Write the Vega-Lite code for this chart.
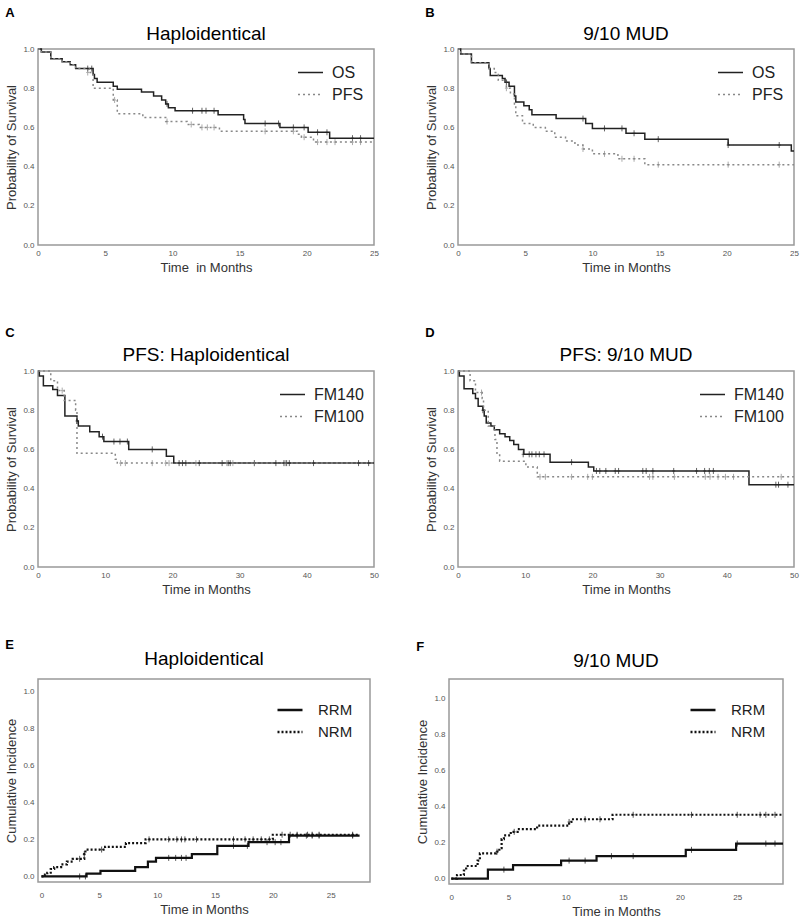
{
  "$schema": "https://vega.github.io/schema/vega-lite/v6.json",
  "padding": {"left": 5, "top": 7, "right": 5, "bottom": 3},
  "background": "white",
  "config": {
    "font": "Liberation Sans",
    "view": {"stroke": "#999", "strokeWidth": 1.5},
    "axis": {"grid": false, "ticks": false, "domain": false, "labelFontSize": 8, "labelColor": "#555", "labelPadding": 4, "labelOverlap": false, "labelFlush": false, "titleFontSize": 13, "titleFontWeight": "normal", "titleColor": "#333"},
    "legend": {"orient": "top-right", "labelFontSize": 16, "labelColor": "#222", "symbolType": "stroke", "symbolSize": 625, "symbolStrokeWidth": 1.5, "rowPadding": -3, "offset": 10, "labelOffset": 8}
  },
  "datasets": {
    "a_line": [
      {"g":"OS","t":0,"s":1},{"g":"OS","t":0.25,"s":0.985},{"g":"OS","t":0.95,"s":0.95},{"g":"OS","t":1.8,"s":0.935},{"g":"OS","t":2.4,"s":0.92},{"g":"OS","t":2.8,"s":0.9},{"g":"OS","t":4.1,"s":0.87},{"g":"OS","t":4.2,"s":0.85},{"g":"OS","t":4.4,"s":0.83},{"g":"OS","t":5.6,"s":0.81},{"g":"OS","t":5.9,"s":0.795},{"g":"OS","t":7.7,"s":0.78},{"g":"OS","t":8.6,"s":0.76},{"g":"OS","t":9.2,"s":0.74},{"g":"OS","t":9.5,"s":0.72},{"g":"OS","t":9.7,"s":0.7},{"g":"OS","t":10.2,"s":0.685},{"g":"OS","t":13.4,"s":0.665},{"g":"OS","t":15.3,"s":0.64},{"g":"OS","t":15.4,"s":0.62},{"g":"OS","t":18.0,"s":0.6},{"g":"OS","t":20.1,"s":0.575},{"g":"OS","t":21.7,"s":0.545},{"g":"OS","t":25,"s":0.545},
      {"g":"PFS","t":0,"s":1},{"g":"PFS","t":0.25,"s":0.985},{"g":"PFS","t":0.95,"s":0.95},{"g":"PFS","t":1.8,"s":0.935},{"g":"PFS","t":2.4,"s":0.92},{"g":"PFS","t":2.8,"s":0.9},{"g":"PFS","t":3.8,"s":0.88},{"g":"PFS","t":4.1,"s":0.8},{"g":"PFS","t":5.6,"s":0.74},{"g":"PFS","t":5.9,"s":0.67},{"g":"PFS","t":7.8,"s":0.65},{"g":"PFS","t":9.5,"s":0.63},{"g":"PFS","t":11.1,"s":0.615},{"g":"PFS","t":12.0,"s":0.6},{"g":"PFS","t":13.5,"s":0.58},{"g":"PFS","t":19.3,"s":0.565},{"g":"PFS","t":19.6,"s":0.55},{"g":"PFS","t":20.5,"s":0.525},{"g":"PFS","t":25,"s":0.525}
    ],
    "a_cens": [
      {"g":"OS","t":3.7,"s":0.9},{"g":"OS","t":4.0,"s":0.9},{"g":"OS","t":9.6,"s":0.72},{"g":"OS","t":11.5,"s":0.685},{"g":"OS","t":12.2,"s":0.685},{"g":"OS","t":12.5,"s":0.685},{"g":"OS","t":13.1,"s":0.685},{"g":"OS","t":16.9,"s":0.62},{"g":"OS","t":17.9,"s":0.62},{"g":"OS","t":19.0,"s":0.6},{"g":"OS","t":19.8,"s":0.6},{"g":"OS","t":20.8,"s":0.575},{"g":"OS","t":21.5,"s":0.575},{"g":"OS","t":23.4,"s":0.545},{"g":"OS","t":24.0,"s":0.545},
      {"g":"PFS","t":3.7,"s":0.88},{"g":"PFS","t":5.7,"s":0.74},{"g":"PFS","t":9.6,"s":0.63},{"g":"PFS","t":11.4,"s":0.615},{"g":"PFS","t":12.2,"s":0.6},{"g":"PFS","t":12.6,"s":0.6},{"g":"PFS","t":13.1,"s":0.6},{"g":"PFS","t":16.9,"s":0.58},{"g":"PFS","t":19.0,"s":0.58},{"g":"PFS","t":19.8,"s":0.55},{"g":"PFS","t":20.8,"s":0.525},{"g":"PFS","t":21.5,"s":0.525},{"g":"PFS","t":22.1,"s":0.525},{"g":"PFS","t":23.4,"s":0.525},{"g":"PFS","t":24.0,"s":0.525}
    ],
    "b_line": [
      {"g":"OS","t":0,"s":1},{"g":"OS","t":0.2,"s":0.975},{"g":"OS","t":1.0,"s":0.93},{"g":"OS","t":2.3,"s":0.9},{"g":"OS","t":2.4,"s":0.865},{"g":"OS","t":3.3,"s":0.85},{"g":"OS","t":3.5,"s":0.83},{"g":"OS","t":3.8,"s":0.81},{"g":"OS","t":4.2,"s":0.76},{"g":"OS","t":4.3,"s":0.73},{"g":"OS","t":4.9,"s":0.71},{"g":"OS","t":5.3,"s":0.69},{"g":"OS","t":5.5,"s":0.665},{"g":"OS","t":7.3,"s":0.645},{"g":"OS","t":9.5,"s":0.62},{"g":"OS","t":10.0,"s":0.595},{"g":"OS","t":12.5,"s":0.57},{"g":"OS","t":13.9,"s":0.54},{"g":"OS","t":20.1,"s":0.51},{"g":"OS","t":24.8,"s":0.48},{"g":"OS","t":25,"s":0.48},
      {"g":"PFS","t":0,"s":1},{"g":"PFS","t":0.2,"s":0.975},{"g":"PFS","t":1.0,"s":0.93},{"g":"PFS","t":2.3,"s":0.9},{"g":"PFS","t":2.7,"s":0.88},{"g":"PFS","t":3.0,"s":0.84},{"g":"PFS","t":3.6,"s":0.8},{"g":"PFS","t":3.9,"s":0.77},{"g":"PFS","t":4.2,"s":0.72},{"g":"PFS","t":4.3,"s":0.66},{"g":"PFS","t":4.8,"s":0.62},{"g":"PFS","t":5.6,"s":0.6},{"g":"PFS","t":6.5,"s":0.58},{"g":"PFS","t":7.2,"s":0.55},{"g":"PFS","t":8.0,"s":0.53},{"g":"PFS","t":8.7,"s":0.51},{"g":"PFS","t":9.3,"s":0.49},{"g":"PFS","t":10.0,"s":0.465},{"g":"PFS","t":11.9,"s":0.44},{"g":"PFS","t":13.9,"s":0.41},{"g":"PFS","t":25,"s":0.41}
    ],
    "b_cens": [
      {"g":"OS","t":3.6,"s":0.83},{"g":"OS","t":9.3,"s":0.645},{"g":"OS","t":10.9,"s":0.595},{"g":"OS","t":12.2,"s":0.595},{"g":"OS","t":13.1,"s":0.57},{"g":"OS","t":14.9,"s":0.54},{"g":"OS","t":20.1,"s":0.51},{"g":"OS","t":23.9,"s":0.51},
      {"g":"PFS","t":3.6,"s":0.8},{"g":"PFS","t":9.3,"s":0.49},{"g":"PFS","t":10.9,"s":0.465},{"g":"PFS","t":12.2,"s":0.44},{"g":"PFS","t":13.1,"s":0.44},{"g":"PFS","t":14.9,"s":0.41},{"g":"PFS","t":20.1,"s":0.41},{"g":"PFS","t":23.9,"s":0.41}
    ],
    "c_line": [
      {"g":"FM140","t":0,"s":1},{"g":"FM140","t":0.2,"s":0.975},{"g":"FM140","t":0.8,"s":0.925},{"g":"FM140","t":2.2,"s":0.905},{"g":"FM140","t":2.9,"s":0.875},{"g":"FM140","t":4.0,"s":0.77},{"g":"FM140","t":5.8,"s":0.745},{"g":"FM140","t":6.0,"s":0.72},{"g":"FM140","t":7.7,"s":0.69},{"g":"FM140","t":9.1,"s":0.665},{"g":"FM140","t":9.8,"s":0.64},{"g":"FM140","t":13.5,"s":0.6},{"g":"FM140","t":19.1,"s":0.565},{"g":"FM140","t":20.2,"s":0.53},{"g":"FM140","t":50,"s":0.53},
      {"g":"FM100","t":0,"s":1},{"g":"FM100","t":1.9,"s":0.95},{"g":"FM100","t":2.9,"s":0.9},{"g":"FM100","t":3.9,"s":0.85},{"g":"FM100","t":5.6,"s":0.8},{"g":"FM100","t":5.8,"s":0.58},{"g":"FM100","t":11.5,"s":0.55},{"g":"FM100","t":11.8,"s":0.53},{"g":"FM100","t":50,"s":0.53}
    ],
    "c_cens": [
      {"g":"FM140","t":5.8,"s":0.745},{"g":"FM140","t":9.6,"s":0.665},{"g":"FM140","t":11.3,"s":0.64},{"g":"FM140","t":12.2,"s":0.64},{"g":"FM140","t":13.3,"s":0.64},{"g":"FM140","t":17.0,"s":0.6},{"g":"FM140","t":21.0,"s":0.53},{"g":"FM140","t":21.5,"s":0.53},{"g":"FM140","t":22.0,"s":0.53},{"g":"FM140","t":24.0,"s":0.53},{"g":"FM140","t":27.4,"s":0.53},{"g":"FM140","t":28.3,"s":0.53},{"g":"FM140","t":28.6,"s":0.53},{"g":"FM140","t":32.2,"s":0.53},{"g":"FM140","t":35.4,"s":0.53},{"g":"FM140","t":36.6,"s":0.53},{"g":"FM140","t":37.0,"s":0.53},{"g":"FM140","t":37.4,"s":0.53},{"g":"FM140","t":41.0,"s":0.53},{"g":"FM140","t":47.7,"s":0.53},{"g":"FM140","t":49.2,"s":0.53},
      {"g":"FM100","t":3.6,"s":0.9},{"g":"FM100","t":12.3,"s":0.53},{"g":"FM100","t":13.0,"s":0.53},{"g":"FM100","t":17.0,"s":0.53},{"g":"FM100","t":19.0,"s":0.53},{"g":"FM100","t":19.5,"s":0.53},{"g":"FM100","t":23.5,"s":0.53},{"g":"FM100","t":28.1,"s":0.53},{"g":"FM100","t":29.0,"s":0.53},{"g":"FM100","t":32.2,"s":0.53},{"g":"FM100","t":36.8,"s":0.53}
    ],
    "d_line": [
      {"g":"FM140","t":0,"s":1},{"g":"FM140","t":0.2,"s":0.975},{"g":"FM140","t":0.9,"s":0.91},{"g":"FM140","t":2.2,"s":0.885},{"g":"FM140","t":2.6,"s":0.86},{"g":"FM140","t":3.0,"s":0.82},{"g":"FM140","t":3.7,"s":0.8},{"g":"FM140","t":3.9,"s":0.77},{"g":"FM140","t":4.2,"s":0.735},{"g":"FM140","t":4.9,"s":0.72},{"g":"FM140","t":5.4,"s":0.7},{"g":"FM140","t":6.2,"s":0.68},{"g":"FM140","t":7.0,"s":0.665},{"g":"FM140","t":7.7,"s":0.645},{"g":"FM140","t":8.3,"s":0.625},{"g":"FM140","t":9.0,"s":0.6},{"g":"FM140","t":9.8,"s":0.575},{"g":"FM140","t":13.7,"s":0.535},{"g":"FM140","t":19.4,"s":0.51},{"g":"FM140","t":20.2,"s":0.49},{"g":"FM140","t":43.3,"s":0.42},{"g":"FM140","t":50,"s":0.42},
      {"g":"FM100","t":0,"s":1},{"g":"FM100","t":1.8,"s":0.95},{"g":"FM100","t":2.6,"s":0.89},{"g":"FM100","t":3.6,"s":0.86},{"g":"FM100","t":3.8,"s":0.8},{"g":"FM100","t":4.5,"s":0.72},{"g":"FM100","t":5.5,"s":0.65},{"g":"FM100","t":5.8,"s":0.58},{"g":"FM100","t":6.2,"s":0.54},{"g":"FM100","t":10.1,"s":0.51},{"g":"FM100","t":11.8,"s":0.46},{"g":"FM100","t":50,"s":0.46}
    ],
    "d_cens": [
      {"g":"FM140","t":3.7,"s":0.8},{"g":"FM140","t":9.7,"s":0.575},{"g":"FM140","t":10.6,"s":0.575},{"g":"FM140","t":11.0,"s":0.575},{"g":"FM140","t":11.6,"s":0.575},{"g":"FM140","t":12.1,"s":0.575},{"g":"FM140","t":12.8,"s":0.575},{"g":"FM140","t":16.9,"s":0.535},{"g":"FM140","t":20.6,"s":0.49},{"g":"FM140","t":21.1,"s":0.49},{"g":"FM140","t":22.0,"s":0.49},{"g":"FM140","t":23.4,"s":0.49},{"g":"FM140","t":23.9,"s":0.49},{"g":"FM140","t":27.5,"s":0.49},{"g":"FM140","t":28.0,"s":0.49},{"g":"FM140","t":29.0,"s":0.49},{"g":"FM140","t":32.1,"s":0.49},{"g":"FM140","t":35.5,"s":0.49},{"g":"FM140","t":36.7,"s":0.49},{"g":"FM140","t":37.4,"s":0.49},{"g":"FM140","t":38.0,"s":0.49},{"g":"FM140","t":47.3,"s":0.42},{"g":"FM140","t":47.7,"s":0.42},{"g":"FM140","t":49.1,"s":0.42},
      {"g":"FM100","t":3.5,"s":0.89},{"g":"FM100","t":12.2,"s":0.46},{"g":"FM100","t":13.0,"s":0.46},{"g":"FM100","t":16.9,"s":0.46},{"g":"FM100","t":19.3,"s":0.46},{"g":"FM100","t":20.0,"s":0.46},{"g":"FM100","t":28.5,"s":0.46},{"g":"FM100","t":29.0,"s":0.46},{"g":"FM100","t":32.2,"s":0.46},{"g":"FM100","t":36.8,"s":0.46},{"g":"FM100","t":37.5,"s":0.46},{"g":"FM100","t":38.7,"s":0.46},{"g":"FM100","t":39.8,"s":0.46},{"g":"FM100","t":41.0,"s":0.46},{"g":"FM100","t":48.1,"s":0.46}
    ],
    "e_line": [
      {"g":"RRM","t":0,"s":0},{"g":"RRM","t":3.9,"s":0.015},{"g":"RRM","t":5.1,"s":0.03},{"g":"RRM","t":8.1,"s":0.05},{"g":"RRM","t":9.2,"s":0.08},{"g":"RRM","t":9.9,"s":0.1},{"g":"RRM","t":13.0,"s":0.12},{"g":"RRM","t":15.2,"s":0.165},{"g":"RRM","t":17.9,"s":0.185},{"g":"RRM","t":21.4,"s":0.22},{"g":"RRM","t":27.5,"s":0.22},
      {"g":"NRM","t":0,"s":0},{"g":"NRM","t":0.3,"s":0.01},{"g":"NRM","t":0.5,"s":0.02},{"g":"NRM","t":0.8,"s":0.04},{"g":"NRM","t":1.1,"s":0.05},{"g":"NRM","t":1.7,"s":0.065},{"g":"NRM","t":2.2,"s":0.08},{"g":"NRM","t":2.7,"s":0.095},{"g":"NRM","t":3.7,"s":0.12},{"g":"NRM","t":3.8,"s":0.145},{"g":"NRM","t":5.5,"s":0.16},{"g":"NRM","t":7.3,"s":0.18},{"g":"NRM","t":9.0,"s":0.2},{"g":"NRM","t":20.0,"s":0.225},{"g":"NRM","t":27.5,"s":0.225}
    ],
    "e_cens": [
      {"g":"RRM","t":3.3,"s":0},{"g":"RRM","t":3.8,"s":0},{"g":"RRM","t":11.0,"s":0.1},{"g":"RRM","t":11.6,"s":0.1},{"g":"RRM","t":12.1,"s":0.1},{"g":"RRM","t":12.5,"s":0.1},{"g":"RRM","t":16.6,"s":0.165},{"g":"RRM","t":17.8,"s":0.165},{"g":"RRM","t":19.5,"s":0.185},{"g":"RRM","t":20.2,"s":0.185},{"g":"RRM","t":20.7,"s":0.185},{"g":"RRM","t":22.1,"s":0.22},{"g":"RRM","t":22.9,"s":0.22},{"g":"RRM","t":23.4,"s":0.22},{"g":"RRM","t":24.0,"s":0.22},{"g":"RRM","t":26.9,"s":0.22},
      {"g":"NRM","t":3.3,"s":0.095},{"g":"NRM","t":3.7,"s":0.12},{"g":"NRM","t":5.2,"s":0.145},{"g":"NRM","t":9.3,"s":0.2},{"g":"NRM","t":11.0,"s":0.2},{"g":"NRM","t":11.7,"s":0.2},{"g":"NRM","t":12.1,"s":0.2},{"g":"NRM","t":12.4,"s":0.2},{"g":"NRM","t":13.4,"s":0.2},{"g":"NRM","t":16.6,"s":0.2},{"g":"NRM","t":17.6,"s":0.2},{"g":"NRM","t":18.3,"s":0.2},{"g":"NRM","t":19.0,"s":0.2},{"g":"NRM","t":19.7,"s":0.2},{"g":"NRM","t":20.8,"s":0.225},{"g":"NRM","t":21.5,"s":0.225},{"g":"NRM","t":22.1,"s":0.225},{"g":"NRM","t":23.0,"s":0.225},{"g":"NRM","t":23.4,"s":0.225},{"g":"NRM","t":24.0,"s":0.225},{"g":"NRM","t":26.9,"s":0.225}
    ],
    "f_line": [
      {"g":"RRM","t":0,"s":0},{"g":"RRM","t":3.2,"s":0.05},{"g":"RRM","t":5.4,"s":0.075},{"g":"RRM","t":9.6,"s":0.1},{"g":"RRM","t":12.7,"s":0.125},{"g":"RRM","t":20.5,"s":0.16},{"g":"RRM","t":24.9,"s":0.195},{"g":"RRM","t":29,"s":0.195},
      {"g":"NRM","t":0,"s":0},{"g":"NRM","t":0.5,"s":0.02},{"g":"NRM","t":1.1,"s":0.045},{"g":"NRM","t":1.3,"s":0.07},{"g":"NRM","t":2.3,"s":0.1},{"g":"NRM","t":2.5,"s":0.14},{"g":"NRM","t":3.9,"s":0.15},{"g":"NRM","t":4.2,"s":0.17},{"g":"NRM","t":4.4,"s":0.22},{"g":"NRM","t":4.6,"s":0.24},{"g":"NRM","t":5.2,"s":0.26},{"g":"NRM","t":5.8,"s":0.275},{"g":"NRM","t":7.5,"s":0.295},{"g":"NRM","t":10.3,"s":0.315},{"g":"NRM","t":10.5,"s":0.33},{"g":"NRM","t":14.1,"s":0.355},{"g":"NRM","t":29,"s":0.355}
    ],
    "f_cens": [
      {"g":"RRM","t":4.6,"s":0.05},{"g":"RRM","t":10.3,"s":0.1},{"g":"RRM","t":11.7,"s":0.1},{"g":"RRM","t":14.0,"s":0.125},{"g":"RRM","t":15.9,"s":0.125},{"g":"RRM","t":21.0,"s":0.16},{"g":"RRM","t":25.0,"s":0.195},{"g":"RRM","t":27.5,"s":0.195},{"g":"RRM","t":28.3,"s":0.195},
      {"g":"NRM","t":4.0,"s":0.15},{"g":"NRM","t":5.5,"s":0.26},{"g":"NRM","t":10.3,"s":0.315},{"g":"NRM","t":11.7,"s":0.33},{"g":"NRM","t":13.0,"s":0.33},{"g":"NRM","t":15.9,"s":0.355},{"g":"NRM","t":21.0,"s":0.355},{"g":"NRM","t":25.0,"s":0.355},{"g":"NRM","t":27.0,"s":0.355},{"g":"NRM","t":27.5,"s":0.355},{"g":"NRM","t":28.3,"s":0.355}
    ]
  },
  "resolve": {"scale": {"color": "independent", "strokeDash": "independent", "stroke": "independent"}},
  "spacing": 42,
  "vconcat": [
   {"resolve": {"scale": {"color": "independent", "strokeDash": "independent", "stroke": "independent"}},
    "spacing": 52,
    "vconcat": [
    {"resolve": {"scale": {"color": "independent", "strokeDash": "independent", "stroke": "independent"}},
     "hconcat": [
      {"title": {"text": "A", "anchor": "start", "fontSize": 13, "fontWeight": "bold", "offset": 4},
       "resolve": {"scale": {"color": "independent", "strokeDash": "independent", "stroke": "independent"}},
       "vconcat": [{
        "width": 336, "height": 196,
        "title": {"text": "Haploidentical", "fontSize": 19, "fontWeight": "normal", "offset": 1},
        "layer": [
          {"data": {"name": "a_line"}, "mark": {"type": "line", "interpolate": "step-after", "strokeWidth": 1.5},
           "encoding": {
             "x": {"field": "t", "type": "quantitative", "scale": {"domain": [0, 25], "nice": false}, "axis": {"values": [0,5,10,15,20,25], "tickCount": 10, "title": "Time\u00a0 in Months"}},
             "y": {"field": "s", "type": "quantitative", "scale": {"domain": [0, 1], "nice": false}, "axis": {"values": [0,0.2,0.4,0.6,0.8,1], "tickCount": 10, "format": ".1f", "title": "Probability of Survival"}},
             "color": {"field": "g", "type": "nominal", "scale": {"domain": ["OS","PFS"], "range": ["#222","#888"]}, "legend": {"title": null}},
             "strokeDash": {"field": "g", "type": "nominal", "scale": {"domain": ["OS","PFS"], "range": [[1,0],[2,3]]}, "legend": {"title": null}}
           }},
          {"data": {"name": "a_cens"}, "mark": {"type": "point", "shape": "M0,-1L0,1M-0.5,0L0.5,0", "size": 36, "filled": false, "strokeWidth": 1},
           "encoding": {"x": {"field": "t", "type": "quantitative"}, "y": {"field": "s", "type": "quantitative"},
             "stroke": {"field": "g", "type": "nominal", "scale": {"domain": ["OS","PFS"], "range": ["#222","#888"]}, "legend": null}}}
        ]}]},
      {"title": {"text": "B", "anchor": "start", "fontSize": 13, "fontWeight": "bold", "offset": 4},
       "resolve": {"scale": {"color": "independent", "strokeDash": "independent", "stroke": "independent"}},
       "vconcat": [{
        "width": 336, "height": 196,
        "title": {"text": "9/10 MUD", "fontSize": 19, "fontWeight": "normal", "offset": 1},
        "layer": [
          {"data": {"name": "b_line"}, "mark": {"type": "line", "interpolate": "step-after", "strokeWidth": 1.5},
           "encoding": {
             "x": {"field": "t", "type": "quantitative", "scale": {"domain": [0, 25], "nice": false}, "axis": {"values": [0,5,10,15,20,25], "tickCount": 10, "title": "Time in Months"}},
             "y": {"field": "s", "type": "quantitative", "scale": {"domain": [0, 1], "nice": false}, "axis": {"values": [0,0.2,0.4,0.6,0.8,1], "tickCount": 10, "format": ".1f", "title": "Probability of Survival"}},
             "color": {"field": "g", "type": "nominal", "scale": {"domain": ["OS","PFS"], "range": ["#222","#888"]}, "legend": {"title": null}},
             "strokeDash": {"field": "g", "type": "nominal", "scale": {"domain": ["OS","PFS"], "range": [[1,0],[2,3]]}, "legend": {"title": null}}
           }},
          {"data": {"name": "b_cens"}, "mark": {"type": "point", "shape": "M0,-1L0,1M-0.5,0L0.5,0", "size": 36, "filled": false, "strokeWidth": 1},
           "encoding": {"x": {"field": "t", "type": "quantitative"}, "y": {"field": "s", "type": "quantitative"},
             "stroke": {"field": "g", "type": "nominal", "scale": {"domain": ["OS","PFS"], "range": ["#222","#888"]}, "legend": null}}}
        ]}]}
    ], "spacing": 45},
    {"resolve": {"scale": {"color": "independent", "strokeDash": "independent", "stroke": "independent"}},
     "hconcat": [
      {"title": {"text": "C", "anchor": "start", "fontSize": 13, "fontWeight": "bold", "offset": 5},
       "resolve": {"scale": {"color": "independent", "strokeDash": "independent", "stroke": "independent"}},
       "vconcat": [{
        "width": 336, "height": 196,
        "title": {"text": "PFS: Haploidentical", "fontSize": 19, "fontWeight": "normal", "offset": 2},
        "layer": [
          {"data": {"name": "c_line"}, "mark": {"type": "line", "interpolate": "step-after", "strokeWidth": 1.5},
           "encoding": {
             "x": {"field": "t", "type": "quantitative", "scale": {"domain": [0, 50], "nice": false}, "axis": {"values": [0,10,20,30,40,50], "tickCount": 10, "title": "Time in Months"}},
             "y": {"field": "s", "type": "quantitative", "scale": {"domain": [0, 1], "nice": false}, "axis": {"values": [0,0.2,0.4,0.6,0.8,1], "tickCount": 10, "format": ".1f", "title": "Probability of Survival"}},
             "color": {"field": "g", "type": "nominal", "scale": {"domain": ["FM140","FM100"], "range": ["#222","#888"]}, "legend": {"title": null}},
             "strokeDash": {"field": "g", "type": "nominal", "scale": {"domain": ["FM140","FM100"], "range": [[1,0],[2,3]]}, "legend": {"title": null}}
           }},
          {"data": {"name": "c_cens"}, "mark": {"type": "point", "shape": "M0,-1L0,1M-0.5,0L0.5,0", "size": 36, "filled": false, "strokeWidth": 1},
           "encoding": {"x": {"field": "t", "type": "quantitative"}, "y": {"field": "s", "type": "quantitative"},
             "stroke": {"field": "g", "type": "nominal", "scale": {"domain": ["FM140","FM100"], "range": ["#222","#888"]}, "legend": null}}}
        ]}]},
      {"title": {"text": "D", "anchor": "start", "fontSize": 13, "fontWeight": "bold", "offset": 5},
       "resolve": {"scale": {"color": "independent", "strokeDash": "independent", "stroke": "independent"}},
       "vconcat": [{
        "width": 336, "height": 196,
        "title": {"text": "PFS: 9/10 MUD", "fontSize": 19, "fontWeight": "normal", "offset": 2},
        "layer": [
          {"data": {"name": "d_line"}, "mark": {"type": "line", "interpolate": "step-after", "strokeWidth": 1.5},
           "encoding": {
             "x": {"field": "t", "type": "quantitative", "scale": {"domain": [0, 50], "nice": false}, "axis": {"values": [0,10,20,30,40,50], "tickCount": 10, "title": "Time in Months"}},
             "y": {"field": "s", "type": "quantitative", "scale": {"domain": [0, 1], "nice": false}, "axis": {"values": [0,0.2,0.4,0.6,0.8,1], "tickCount": 10, "format": ".1f", "title": "Probability of Survival"}},
             "color": {"field": "g", "type": "nominal", "scale": {"domain": ["FM140","FM100"], "range": ["#222","#888"]}, "legend": {"title": null}},
             "strokeDash": {"field": "g", "type": "nominal", "scale": {"domain": ["FM140","FM100"], "range": [[1,0],[2,3]]}, "legend": {"title": null}}
           }},
          {"data": {"name": "d_cens"}, "mark": {"type": "point", "shape": "M0,-1L0,1M-0.5,0L0.5,0", "size": 36, "filled": false, "strokeWidth": 1},
           "encoding": {"x": {"field": "t", "type": "quantitative"}, "y": {"field": "s", "type": "quantitative"},
             "stroke": {"field": "g", "type": "nominal", "scale": {"domain": ["FM140","FM100"], "range": ["#222","#888"]}, "legend": null}}}
        ]}]}
    ], "spacing": 45}
   ]},
    {"resolve": {"scale": {"color": "independent", "strokeDash": "independent", "stroke": "independent"}},
     "hconcat": [
      {"title": {"text": "E", "anchor": "start", "fontSize": 13, "fontWeight": "bold", "offset": -3},
       "resolve": {"scale": {"color": "independent", "strokeDash": "independent", "stroke": "independent"}},
       "vconcat": [{
        "width": 332, "height": 203,
        "title": {"text": "Haploidentical", "fontSize": 19, "fontWeight": "normal", "offset": 10},
        "layer": [
          {"data": {"name": "e_line"}, "mark": {"type": "line", "interpolate": "step-after", "strokeWidth": 2.2},
           "encoding": {
             "x": {"field": "t", "type": "quantitative", "scale": {"domain": [-0.3, 28.4], "nice": false, "zero": false}, "axis": {"values": [0,5,10,15,20,25], "tickCount": 10, "title": "Time in Months", "labelPadding": 9}},
             "y": {"field": "s", "type": "quantitative", "scale": {"domain": [-0.03, 1.065], "nice": false, "zero": false}, "axis": {"values": [0,0.2,0.4,0.6,0.8,1], "tickCount": 10, "format": ".1f", "title": "Cumulative Incidence"}},
             "color": {"field": "g", "type": "nominal", "scale": {"domain": ["RRM","NRM"], "range": ["#111","#111"]}, "legend": {"title": null, "labelFontSize": 15, "symbolStrokeWidth": 2.5, "rowPadding": 0, "labelOffset": 14, "offset": 17}},
             "strokeDash": {"field": "g", "type": "nominal", "scale": {"domain": ["RRM","NRM"], "range": [[1,0],[2,2]]}, "legend": {"title": null, "labelFontSize": 15, "symbolStrokeWidth": 2.5, "rowPadding": 0, "labelOffset": 14, "offset": 17}}
           }},
          {"data": {"name": "e_cens"}, "mark": {"type": "point", "shape": "M0,-1L0,1M-0.5,0L0.5,0", "size": 36, "filled": false, "strokeWidth": 1, "color": "#111"},
           "encoding": {"x": {"field": "t", "type": "quantitative"}, "y": {"field": "s", "type": "quantitative"}}}
        ]}]},
      {"title": {"text": "F", "anchor": "start", "fontSize": 13, "fontWeight": "bold", "offset": -3},
       "resolve": {"scale": {"color": "independent", "strokeDash": "independent", "stroke": "independent"}},
       "vconcat": [{
        "width": 334, "height": 205,
        "title": {"text": "9/10 MUD", "fontSize": 19, "fontWeight": "normal", "offset": 8},
        "layer": [
          {"data": {"name": "f_line"}, "mark": {"type": "line", "interpolate": "step-after", "strokeWidth": 2.2},
           "encoding": {
             "x": {"field": "t", "type": "quantitative", "scale": {"domain": [-0.2, 29], "nice": false, "zero": false}, "axis": {"values": [0,5,10,15,20,25], "tickCount": 10, "title": "Time in Months", "labelPadding": 9}},
             "y": {"field": "s", "type": "quantitative", "scale": {"domain": [-0.03, 1.11], "nice": false, "zero": false}, "axis": {"values": [0,0.2,0.4,0.6,0.8,1], "tickCount": 10, "format": ".1f", "title": "Cumulative Incidence"}},
             "color": {"field": "g", "type": "nominal", "scale": {"domain": ["RRM","NRM"], "range": ["#111","#111"]}, "legend": {"title": null, "labelFontSize": 15, "symbolStrokeWidth": 2.5, "rowPadding": 0, "labelOffset": 14, "offset": 17}},
             "strokeDash": {"field": "g", "type": "nominal", "scale": {"domain": ["RRM","NRM"], "range": [[1,0],[2,2]]}, "legend": {"title": null, "labelFontSize": 15, "symbolStrokeWidth": 2.5, "rowPadding": 0, "labelOffset": 14, "offset": 17}}
           }},
          {"data": {"name": "f_cens"}, "mark": {"type": "point", "shape": "M0,-1L0,1M-0.5,0L0.5,0", "size": 36, "filled": false, "strokeWidth": 1, "color": "#111"},
           "encoding": {"x": {"field": "t", "type": "quantitative"}, "y": {"field": "s", "type": "quantitative"}}}
        ]}]}
    ], "spacing": 45}
  ]
}
